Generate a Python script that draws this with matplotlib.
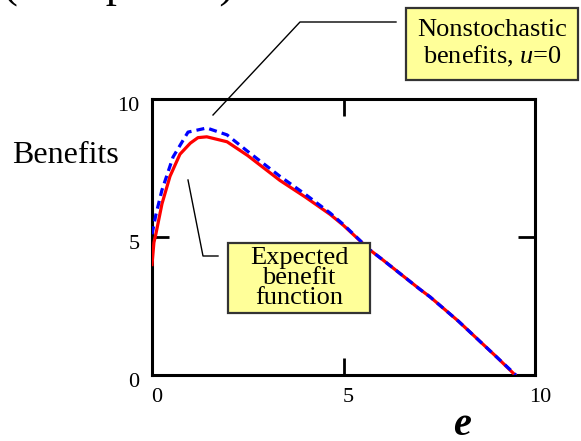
import matplotlib
matplotlib.use("Agg")
import matplotlib.pyplot as plt
import matplotlib.transforms as mtransforms
from matplotlib.lines import Line2D
from matplotlib.patches import Rectangle

# values
e_nonstoch = [0.0, 0.1, 0.26, 0.55, 0.94, 1.43, 1.96, 2.5, 3.34, 4.0, 4.65, 5.0, 5.69, 6.0, 7.0, 7.26, 8.0, 9.0, 9.5]
b_nonstoch = [5.1, 5.8, 6.7, 7.9, 8.8, 8.95, 8.7, 8.1, 7.2, 6.55, 5.87, 5.45, 4.53, 4.2, 3.1, 2.83, 1.95, 0.65, 0.0]

e_expected = [0.0, 0.05, 0.1, 0.26, 0.47, 0.73, 1.0, 1.2, 1.43, 1.96, 2.5, 3.34, 4.0, 4.65, 5.0, 5.69, 6.0, 7.0, 7.26, 8.0, 9.0, 9.48]
b_expected = [4.0, 4.8, 5.1, 6.2, 7.2, 8.0, 8.4, 8.6, 8.63, 8.45, 7.95, 7.05, 6.45, 5.82, 5.42, 4.53, 4.2, 3.1, 2.83, 1.95, 0.65, 0.0]

ticks = [0, 5, 10]
tick_labels = ["0", "5", "10"]

W, H = 581, 441
serif = "Liberation Serif"
box_fill = "#FFFF99"

plt.rcParams["mathtext.fontset"] = "custom"
plt.rcParams["mathtext.rm"] = serif
plt.rcParams["mathtext.it"] = serif + ":italic"


def fx(x):
    return x / W


def fy(y):
    return 1 - y / H


def boxText(fig, left, top, right, bottom, txt, size, spacing):
    rect = Rectangle((fx(left), fy(bottom)), fx(right) - fx(left), fy(top) - fy(bottom),
                     transform=fig.transFigure, facecolor=box_fill, edgecolor="#333333",
                     linewidth=1.6, zorder=5)
    fig.patches.append(rect)
    fig.text(fx((left + right) / 2), fy((top + bottom) / 2), txt, ha="center", va="center",
             family=serif, fontsize=size, linespacing=spacing, zorder=6)


def leader(fig, xs, ys):
    ln = Line2D([fx(x) for x in xs], [fy(y) for y in ys], transform=fig.transFigure,
                color="black", linewidth=1.0, zorder=4)
    fig.lines.append(ln)


fig = plt.figure(figsize=(W / 100, H / 100), dpi=100)
ax = fig.add_axes([fx(152), fy(375), fx(535) - fx(152), fy(99) - fy(375)])

ax.plot(e_expected, b_expected, color="#FF0000", linewidth=2.3, zorder=3)
ax.plot(e_nonstoch, b_nonstoch, color="#0000FF", linewidth=2.3, linestyle=(0, (2.5, 1.6)), zorder=4)

ax.set_xlim(0, 10)
ax.set_ylim(0, 10)
ax.set_xticks(ticks)
ax.set_yticks(ticks)
ax.set_xticklabels(tick_labels, family=serif, fontsize=16)
ax.set_yticklabels(tick_labels, family=serif, fontsize=16)
ax.tick_params(direction="in", length=12, width=2, top=True, right=True, pad=9)
for s in ax.spines.values():
    s.set_linewidth(2.2)

# hide the tick marks at 0 and 10, the reference only has the mid ones
for t in ax.xaxis.get_major_ticks() + ax.yaxis.get_major_ticks():
    if t.get_loc() != 5:
        t.tick1line.set_visible(False)
        t.tick2line.set_visible(False)

# labels sit a little right / below their ticks in the reference
shift_x = mtransforms.ScaledTranslation(5 / 100, 0, fig.dpi_scale_trans)
shift_y = mtransforms.ScaledTranslation(0, -5 / 100, fig.dpi_scale_trans)
for lab in ax.get_xticklabels():
    lab.set_transform(lab.get_transform() + shift_x)
for lab in ax.get_yticklabels():
    lab.set_transform(lab.get_transform() + shift_y)

fig.text(fx(12), fy(163), "Benefits", family=serif, fontsize=23, ha="left", va="baseline")
fig.text(fx(462), fy(435), "e", family=serif, fontsize=29, style="italic",
         weight="bold", ha="center", va="baseline")

# partly cut-off caption at the top edge, only its descenders show
fig.text(fx(3), fy(-3), "(the optimal)", family=serif, fontsize=32, ha="left", va="baseline")

boxText(fig, 406, 8, 578, 80, "Nonstochastic\nbenefits, $u$=0", 19, 1.1)
boxText(fig, 228, 243, 370, 313, "Expected\nbenefit\nfunction", 19, 0.9)

leader(fig, [213, 300, 396], [115, 22, 22])
leader(fig, [188, 203, 218], [180, 256, 256])

fig.savefig("out.png", dpi=100)
